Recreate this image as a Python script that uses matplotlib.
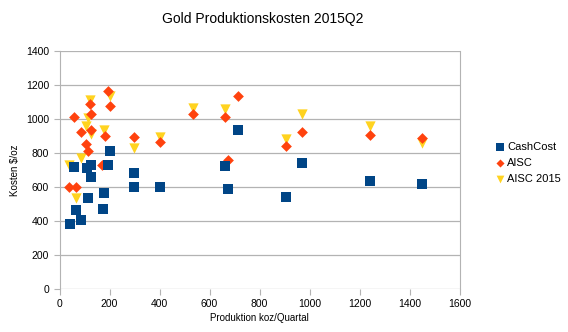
import matplotlib
matplotlib.use("Agg")
import matplotlib.pyplot as plt

# values
cash_x = [41, 64, 84, 57, 110, 124, 124, 113, 178, 174, 192, 201, 298, 298, 402,
          713, 660, 673, 906, 968, 1240, 1449]
cash_y = [384, 466, 407, 720, 715, 730, 658, 535, 566, 472, 733, 814, 682, 599, 599,
          934, 722, 587, 544, 744, 636, 620]

aisc_x = [37, 64, 58, 85, 106, 112, 120, 124, 124, 168, 180, 192, 201, 296, 402,
          532, 660, 673, 713, 906, 968, 1240, 1449]
aisc_y = [599, 599, 1011, 922, 854, 814, 1090, 1030, 936, 730, 900, 1165, 1077, 893, 864,
          1030, 1011, 762, 1137, 844, 924, 907, 891]

aisc15_x = [38, 65, 85, 105, 114, 121, 124, 178, 201, 297, 402, 533, 660, 906, 968,
            1240, 1449]
aisc15_y = [730, 535, 772, 960, 1005, 1112, 910, 934, 1134, 830, 895, 1065, 1058, 881, 1030,
            959, 861]

plt.rcParams['font.family'] = ['Liberation Sans', 'DejaVu Sans']

fig = plt.figure(figsize=(5.68, 3.32), dpi=100)
ax = fig.add_axes([0.105, 0.1286, 0.704, 0.7174])

ax.scatter(aisc15_x, aisc15_y, marker='v', s=55, color='#ffd320', linewidths=0,
           label='AISC 2015', zorder=3)
ax.scatter(aisc_x, aisc_y, marker='D', s=30, color='#ff420e', linewidths=0,
           label='AISC', zorder=4)
ax.scatter(cash_x, cash_y, marker='s', s=55, color='#004586', linewidths=0,
           label='CashCost', zorder=5)

ax.set_xlim(0, 1600)
ax.set_ylim(0, 1400)
ax.set_xticks(range(0, 1601, 200))
ax.set_yticks(range(0, 1401, 200))
ax.grid(axis='y', color='#b3b3b3', linewidth=0.9)
ax.set_axisbelow(True)
for side in ['top', 'bottom']:
    ax.spines[side].set_visible(False)
ax.spines['left'].set_color('#b3b3b3')
ax.spines['right'].set_color('#b3b3b3')
ax.tick_params(colors='#b3b3b3', labelcolor='black', labelsize=7.5, length=4)
ax.tick_params(axis='x', pad=3)

ax.set_xlabel('Produktion koz/Quartal', fontsize=7, labelpad=3)
ax.set_ylabel('Kosten $/oz', fontsize=7, labelpad=4)
fig.suptitle('Gold Produktionskosten 2015Q2', x=0.462, y=0.965, fontsize=10)

h, l = ax.get_legend_handles_labels()
fig.legend(h[::-1], l[::-1], loc='center left', bbox_to_anchor=(0.865, 0.51),
           frameon=False, fontsize=8, handletextpad=0.2, handlelength=0.8,
           markerscale=0.75, labelspacing=0.55, borderaxespad=0)

fig.savefig('out.png', dpi=100)
